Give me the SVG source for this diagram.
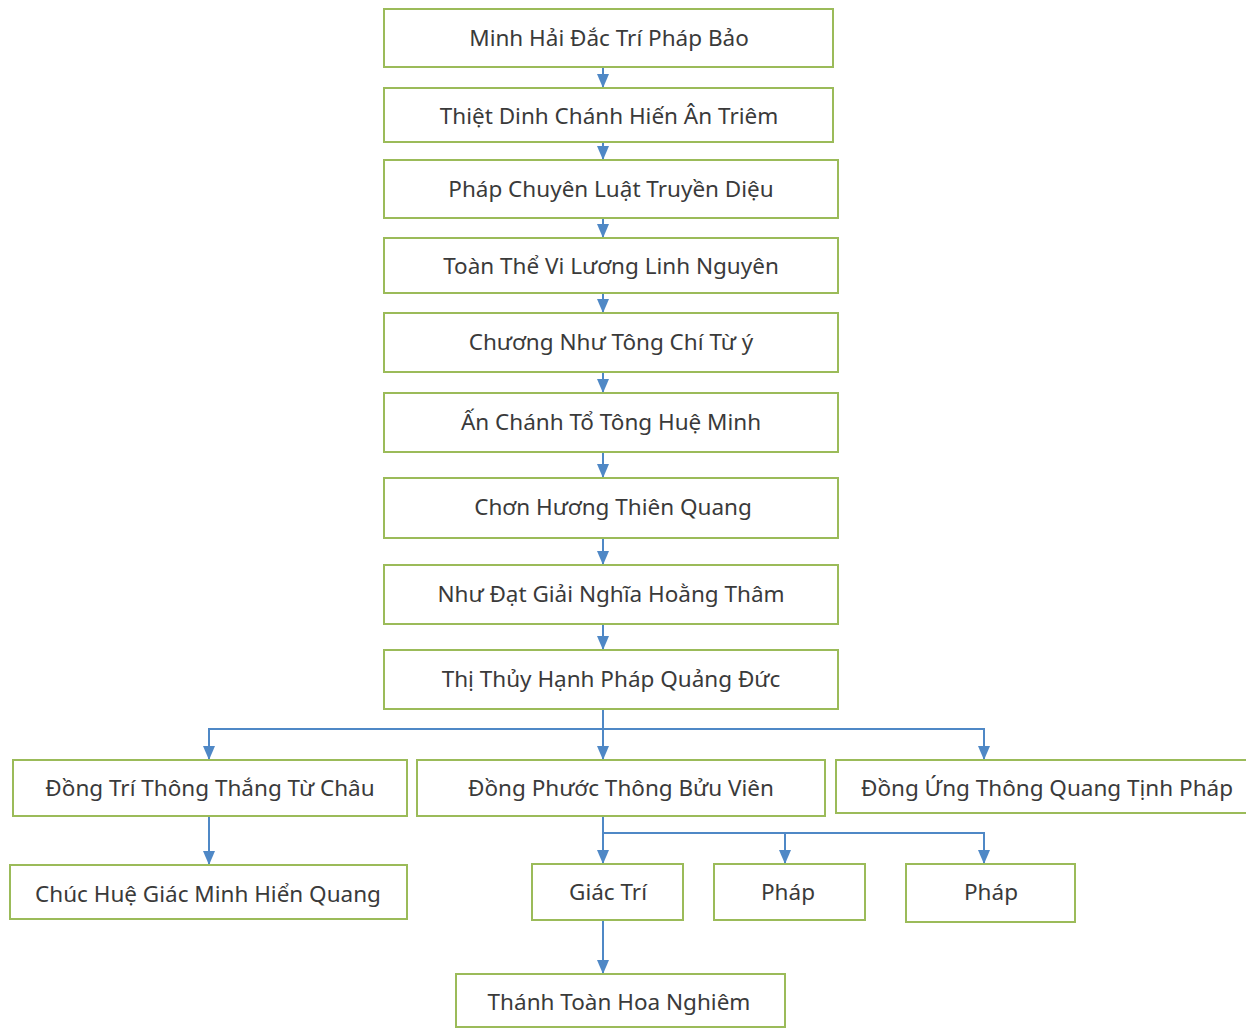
<svg xmlns="http://www.w3.org/2000/svg" width="1246" height="1028" viewBox="0 0 1246 1028">
<defs>
<style>
.box{fill:#fff;stroke:#9bbb59;stroke-width:2}
.t{font-family:"Noto Sans","Open Sans","Liberation Sans",sans-serif;font-size:22.5px;fill:#3a3a3a;text-anchor:middle}
.c{fill:none;stroke:#4f88c6;stroke-width:2}
</style>
<marker id="ah" viewBox="0 0 14 12" refX="14" refY="6" markerWidth="14" markerHeight="12" markerUnits="userSpaceOnUse" orient="auto">
<path d="M0,0 L14,6 L0,12 z" fill="#4f88c6"/>
</marker>
</defs>
<rect width="1246" height="1028" fill="#fff"/>
<g id="connectors">
<line class="c" x1="603" y1="68" x2="603" y2="88" marker-end="url(#ah)"/>
<line class="c" x1="603" y1="142" x2="603" y2="160" marker-end="url(#ah)"/>
<line class="c" x1="603" y1="218" x2="603" y2="238" marker-end="url(#ah)"/>
<line class="c" x1="603" y1="293" x2="603" y2="313" marker-end="url(#ah)"/>
<line class="c" x1="603" y1="372" x2="603" y2="393" marker-end="url(#ah)"/>
<line class="c" x1="603" y1="452" x2="603" y2="478" marker-end="url(#ah)"/>
<line class="c" x1="603" y1="538" x2="603" y2="565" marker-end="url(#ah)"/>
<line class="c" x1="603" y1="624" x2="603" y2="650" marker-end="url(#ah)"/>
<line class="c" x1="603" y1="709" x2="603" y2="760" marker-end="url(#ah)"/>
<polyline class="c" points="603,729 209,729 209,760" marker-end="url(#ah)"/>
<polyline class="c" points="603,729 984,729 984,760" marker-end="url(#ah)"/>
<line class="c" x1="209" y1="816" x2="209" y2="865" marker-end="url(#ah)"/>
<line class="c" x1="603" y1="816" x2="603" y2="864" marker-end="url(#ah)"/>
<polyline class="c" points="603,833 785,833 785,864" marker-end="url(#ah)"/>
<polyline class="c" points="785,833 984,833 984,864" marker-end="url(#ah)"/>
<line class="c" x1="603" y1="920" x2="603" y2="974" marker-end="url(#ah)"/>
</g>
<g id="n1"><rect class="box" x="384" y="9" width="449" height="58"/><text class="t" x="609" y="46">Minh Hải Đắc Trí Pháp Bảo</text></g>
<g id="n2"><rect class="box" x="384" y="88" width="449" height="54"/><text class="t" x="609" y="124">Thiệt Dinh Chánh Hiến Ân Triêm</text></g>
<g id="n3"><rect class="box" x="384" y="160" width="454" height="58"/><text class="t" x="611" y="197">Pháp Chuyên Luật Truyền Diệu</text></g>
<g id="n4"><rect class="box" x="384" y="238" width="454" height="55"/><text class="t" x="611" y="274">Toàn Thể Vi Lương Linh Nguyên</text></g>
<g id="n5"><rect class="box" x="384" y="313" width="454" height="59"/><text class="t" x="611" y="350">Chương Như Tông Chí Từ ý</text></g>
<g id="n6"><rect class="box" x="384" y="393" width="454" height="59"/><text class="t" x="611" y="430">Ấn Chánh Tổ Tông Huệ Minh</text></g>
<g id="n7"><rect class="box" x="384" y="478" width="454" height="60"/><text class="t" x="613" y="515">Chơn Hương Thiên Quang</text></g>
<g id="n8"><rect class="box" x="384" y="565" width="454" height="59"/><text class="t" x="611" y="602">Như Đạt Giải Nghĩa Hoằng Thâm</text></g>
<g id="n9"><rect class="box" x="384" y="650" width="454" height="59"/><text class="t" x="611" y="687">Thị Thủy Hạnh Pháp Quảng Đức</text></g>
<g id="n10"><rect class="box" x="13" y="760" width="394" height="56"/><text class="t" x="210" y="796">Đồng Trí Thông Thắng Từ Châu</text></g>
<g id="n11"><rect class="box" x="417" y="760" width="408" height="56"/><text class="t" x="621" y="796">Đồng Phước Thông Bửu Viên</text></g>
<g id="n12"><rect class="box" x="836" y="760" width="412" height="53"/><text class="t" x="1047" y="796">Đồng Ứng Thông Quang Tịnh Pháp</text></g>
<g id="n13"><rect class="box" x="10" y="865" width="397" height="54"/><text class="t" x="208" y="902">Chúc Huệ Giác Minh Hiển Quang</text></g>
<g id="n14"><rect class="box" x="532" y="864" width="151" height="56"/><text class="t" x="608" y="900">Giác Trí</text></g>
<g id="n15"><rect class="box" x="714" y="864" width="151" height="56"/><text class="t" x="788" y="900">Pháp</text></g>
<g id="n16"><rect class="box" x="906" y="864" width="169" height="58"/><text class="t" x="991" y="900">Pháp</text></g>
<g id="n17"><rect class="box" x="456" y="974" width="329" height="53"/><text class="t" x="619" y="1010">Thánh Toàn Hoa Nghiêm</text></g>
</svg>
